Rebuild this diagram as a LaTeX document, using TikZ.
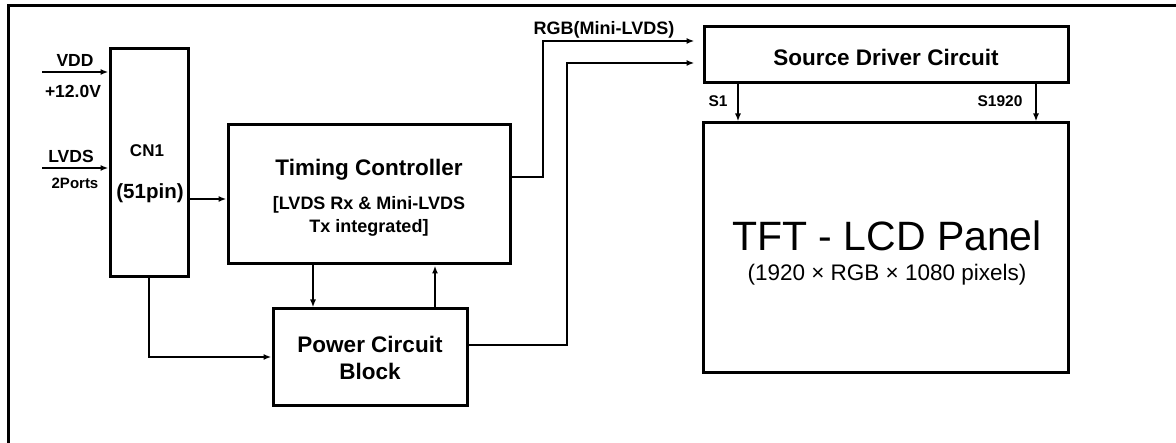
\documentclass[tikz,border=0pt]{standalone}
\usepackage{fontspec}
\setmainfont{Liberation Sans}
\usetikzlibrary{arrows.meta}
\begin{document}
\begin{tikzpicture}[x=1pt,y=-1pt,
  box/.style={draw,line width=3pt,inner sep=0pt},
  conn/.style={line width=1.8pt},
  arr/.style={conn,-{Latex[length=8pt,width=6pt]}},
  lbl/.style={font=\bfseries\fontsize{17.5}{20}\selectfont,inner sep=0pt},
  small/.style={font=\bfseries\fontsize{15.5}{18}\selectfont,inner sep=0pt},
  big/.style={font=\bfseries\fontsize{22.5}{27}\selectfont,inner sep=0pt,align=center},
  mid/.style={font=\bfseries\fontsize{18}{23}\selectfont,inner sep=0pt,align=center}]
\useasboundingbox (0,0) rectangle (1176,443);
\fill[white] (0,0) rectangle (1176,443);
% frame
\draw[line width=3pt] (8,443) -- (8,6) -- (1176,6);
% boxes
\node[box,minimum width=78,minimum height=228] (cn1) at (149,163) {};
\node[box,minimum width=282,minimum height=139] (tc) at (369,194.5) {};
\node[box,minimum width=194,minimum height=97] (pw) at (370,357.5) {};
\node[box,minimum width=364,minimum height=56] (sd) at (886,55) {};
\node[box,minimum width=365,minimum height=250] (panel) at (885.5,248) {};
% box texts
\node[lbl,font=\bfseries\fontsize{17}{20}\selectfont] (cn1t) at (147,151) {CN1};
\node[lbl,font=\bfseries\fontsize{20.5}{24}\selectfont] (cn1p) at (150,193) {(51pin)};
\node[big] (tct) at (369,170) {Timing Controller};
\node[mid] (tcs) at (369,216) {[LVDS Rx \& Mini-LVDS\\Tx integrated]};
\node[big,font=\bfseries\fontsize{22.5}{27}\selectfont] (pwt) at (370,358) {Power Circuit\\Block};
\node[big] (sdt) at (886,57) {Source Driver Circuit};
\node[inner sep=0pt,font=\fontsize{41}{46}\selectfont] (pt1) at (887,236) {TFT - LCD Panel};
\node[inner sep=0pt,font=\fontsize{22.5}{26}\selectfont] (pt2) at (887,275) {(1920 × RGB × 1080 pixels)};
% coordinates
\coordinate (vin) at (42,72);
\coordinate (lin) at (42,168);
\coordinate (y199) at (0,199);
\coordinate (xdn) at (313,0);
\coordinate (xup) at (435,0);
\coordinate (y357) at (0,357);
\coordinate (y177) at (0,177);
\coordinate (y345) at (0,345);
\coordinate (k1) at (543,41);
\coordinate (k2) at (567,63);
\coordinate (xs1) at (738,0);
\coordinate (xs2) at (1036,0);
% connectors
\draw[arr] (vin) -- (vin -| cn1.west);
\draw[arr] (lin) -- (lin -| cn1.west);
\draw[arr] (cn1.east |- y199) -- (tc.west |- y199);
\draw[arr] (tc.south -| xdn) -- (pw.north -| xdn);
\draw[arr] (pw.north -| xup) -- (tc.south -| xup);
\draw[arr] (cn1.south) |- (pw.west |- y357);
\draw[arr,shorten >=8pt] (tc.east |- y177) -| (k1) -- (sd.west |- k1);
\draw[arr,shorten >=8pt] (pw.east |- y345) -| (k2) -- (sd.west |- k2);
\draw[arr] (sd.south -| xs1) -- (panel.north -| xs1);
\draw[arr] (sd.south -| xs2) -- (panel.north -| xs2);
% labels
\node[lbl] (vdd) at (75,60) {VDD};
\node[lbl] (v12) at (73,91) {+12.0V};
\node[lbl] (lvds) at (71,156) {LVDS};
\node[small,font=\fontsize{15}{18}\selectfont\bfseries] (ports) at (75,183) {2Ports};
\node[lbl,font=\bfseries\fontsize{18}{20}\selectfont] (rgb) at (604,30) {RGB(Mini-LVDS)};
\node[small] (s1) at (718,101) {S1};
\node[small] (s1920) at (1000,101) {S1920};
\end{tikzpicture}
\end{document}
